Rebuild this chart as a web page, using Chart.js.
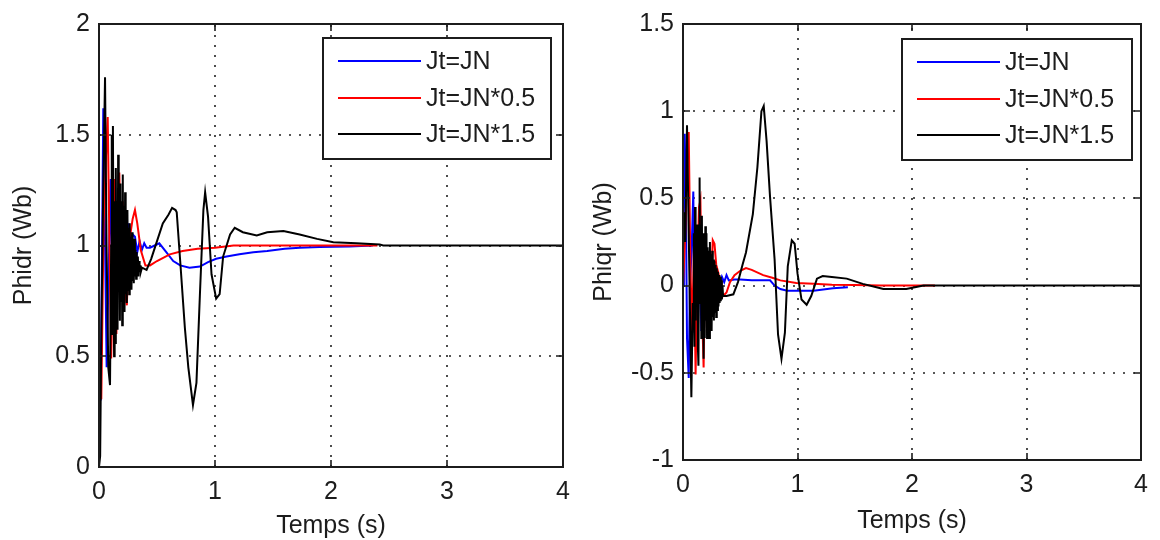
<!DOCTYPE html>
<html><head><meta charset="utf-8">
<script src="https://cdn.jsdelivr.net/npm/chart.js@4.4.0/dist/chart.umd.min.js"></script>
<style>
html,body{margin:0;padding:0;background:#fff;}
#wrap{position:relative;width:1160px;height:540px;overflow:hidden;background:#fff;}
canvas{position:absolute;top:0;}
#c1{left:0}
#c2{left:580px}
</style></head><body>
<div id="wrap"><canvas id="c1" width="580" height="540"></canvas><canvas id="c2" width="580" height="540"></canvas></div>
<script>
// ---------------- data ----------------
const seriesNames = ['Jt=JN', 'Jt=JN*0.5', 'Jt=JN*1.5'];
const xTitle = 'Temps (s)';
const leftYTitle = 'Phidr (Wb)';
const rightYTitle = 'Phiqr (Wb)';

const timeTicks = [0, 1, 2, 3, 4];
const timeTickLabels = ['0', '1', '2', '3', '4'];
const phidrTicks = [0, 0.5, 1, 1.5, 2];
const phidrTickLabels = ['0', '0.5', '1', '1.5', '2'];
const phiqrTicks = [-1, -0.5, 0, 0.5, 1, 1.5];
const phiqrTickLabels = ['-1', '-0.5', '0', '0.5', '1', '1.5'];

// Phidr, [time, value]
const phidrJN = [[0,0.58],[0.015,0.3],[0.037,1.62],[0.05,1.1],[0.066,0.45],[0.08,0.8],[0.1,1.3],[0.12,0.64],[0.135,1.2],[0.15,0.9],[0.165,1.17],[0.18,0.78],[0.2,1.12],[0.215,0.85],[0.23,1.08],[0.245,0.9],[0.255,1.1],[0.27,0.95],[0.29,1.05],[0.31,1.04],[0.33,0.97],[0.35,1.02],[0.37,0.98],[0.39,1.01],[0.41,0.99],[0.44,0.99],[0.48,1.0],[0.52,1.01],[0.58,0.97],[0.64,0.93],[0.7,0.91],[0.78,0.9],[0.87,0.905],[0.94,0.925],[1.01,0.94],[1.1,0.95],[1.21,0.96],[1.33,0.97],[1.45,0.975],[1.6,0.985],[1.73,0.99],[1.9,0.993],[2.16,0.995],[2.36,1.0]];
const phidrJN05 = [[0,0.31],[0.02,0.31],[0.04,1.1],[0.06,1.4],[0.075,1.58],[0.09,1.0],[0.105,0.49],[0.12,0.9],[0.135,1.3],[0.15,0.6],[0.175,1.33],[0.19,0.9],[0.205,1.2],[0.22,0.8],[0.24,0.73],[0.255,0.95],[0.27,1.05],[0.29,1.12],[0.31,1.16],[0.33,1.1],[0.36,0.98],[0.4,0.91],[0.44,0.91],[0.5,0.93],[0.61,0.96],[0.72,0.975],[0.85,0.985],[1.0,0.99],[1.16,1.0],[1.6,1.0],[2.0,1.0],[2.4,1.0]];
const phidrJN15 = [[0,0.0],[0.01,0.05],[0.02,0.6],[0.035,1.2],[0.052,1.76],[0.065,1.0],[0.08,0.45],[0.095,0.37],[0.105,1.0],[0.11,1.5],[0.115,0.6],[0.12,1.54],[0.125,0.9],[0.13,0.5],[0.135,1.2],[0.14,0.56],[0.145,1.35],[0.15,0.7],[0.155,1.2],[0.16,0.62],[0.165,1.41],[0.17,0.8],[0.175,1.1],[0.18,0.66],[0.185,1.28],[0.19,0.75],[0.195,1.2],[0.2,0.64],[0.205,1.32],[0.21,0.72],[0.215,1.18],[0.22,0.7],[0.225,1.24],[0.23,0.78],[0.235,1.12],[0.24,0.74],[0.245,1.16],[0.25,0.8],[0.255,1.08],[0.26,0.78],[0.265,1.1],[0.27,0.82],[0.275,1.04],[0.28,0.8],[0.285,1.06],[0.29,0.84],[0.295,1.0],[0.3,0.83],[0.305,1.03],[0.31,0.86],[0.315,0.98],[0.32,0.85],[0.325,0.97],[0.33,0.87],[0.335,0.95],[0.34,0.86],[0.345,0.93],[0.35,0.88],[0.355,0.91],[0.36,0.88],[0.37,0.9],[0.41,0.89],[0.45,0.94],[0.5,1.02],[0.55,1.1],[0.6,1.14],[0.63,1.17],[0.66,1.16],[0.67,1.15],[0.7,0.93],[0.74,0.63],[0.77,0.45],[0.81,0.28],[0.84,0.38],[0.87,0.78],[0.9,1.16],[0.915,1.24],[0.94,1.13],[0.97,0.87],[1.01,0.76],[1.04,0.78],[1.07,0.95],[1.13,1.05],[1.17,1.08],[1.24,1.06],[1.36,1.045],[1.45,1.06],[1.59,1.065],[1.73,1.05],[1.88,1.03],[2.02,1.015],[2.22,1.01],[2.42,1.005],[2.45,1.0],[4,1.0]];

// Phiqr, [time, value]
const phiqrJN = [[0,0.0],[0.008,0.45],[0.015,0.87],[0.025,0.5],[0.035,-0.3],[0.05,-0.53],[0.06,0.0],[0.075,0.2],[0.09,0.54],[0.1,-0.27],[0.115,0.1],[0.13,-0.26],[0.146,0.26],[0.16,-0.26],[0.175,0.2],[0.19,-0.2],[0.205,0.15],[0.22,-0.1],[0.235,0.12],[0.25,-0.03],[0.26,0.07],[0.28,0.02],[0.3,0.06],[0.32,0.0],[0.34,0.05],[0.36,0.02],[0.38,0.06],[0.4,0.03],[0.45,0.035],[0.5,0.035],[0.6,0.03],[0.76,0.03],[0.8,0.0],[0.85,-0.02],[0.91,-0.03],[1.14,-0.03],[1.31,-0.015],[1.44,-0.01]];
const phiqrJN05 = [[0,0.0],[0.02,0.3],[0.035,0.72],[0.05,0.88],[0.065,0.1],[0.08,-0.27],[0.095,0.2],[0.11,-0.51],[0.125,0.1],[0.14,0.45],[0.152,0.49],[0.165,-0.1],[0.18,-0.47],[0.195,0.3],[0.21,-0.2],[0.225,0.1],[0.24,-0.1],[0.26,0.26],[0.275,0.24],[0.29,0.12],[0.31,0.07],[0.33,-0.02],[0.35,-0.06],[0.38,-0.04],[0.41,0.02],[0.45,0.06],[0.5,0.085],[0.55,0.1],[0.6,0.09],[0.7,0.06],[0.78,0.045],[0.85,0.03],[0.99,0.015],[1.14,0.01],[1.3,0.005],[1.5,0.003],[1.73,0.0],[2.2,0.0]];
const phiqrJN15 = [[0,0.2],[0.01,0.42],[0.02,0.25],[0.035,0.92],[0.05,0.3],[0.073,-0.64],[0.085,-0.1],[0.09,-0.2],[0.095,0.3],[0.1,-0.35],[0.105,0.45],[0.11,-0.2],[0.115,0.3],[0.12,-0.1],[0.125,0.35],[0.13,-0.35],[0.135,-0.46],[0.14,0.2],[0.145,0.62],[0.15,-0.1],[0.155,0.35],[0.16,-0.3],[0.165,0.4],[0.17,-0.25],[0.175,0.3],[0.18,-0.42],[0.185,0.2],[0.19,-0.3],[0.195,0.34],[0.2,-0.2],[0.205,0.3],[0.21,-0.3],[0.215,0.22],[0.22,-0.25],[0.225,0.2],[0.23,-0.3],[0.235,0.25],[0.24,-0.2],[0.245,0.18],[0.25,-0.26],[0.255,0.2],[0.26,-0.18],[0.265,0.15],[0.27,-0.2],[0.275,0.14],[0.28,-0.15],[0.285,0.12],[0.29,-0.18],[0.295,0.1],[0.3,-0.14],[0.305,0.08],[0.31,-0.12],[0.315,0.06],[0.32,-0.1],[0.325,0.05],[0.33,-0.09],[0.335,0.03],[0.34,-0.08],[0.345,0.0],[0.35,-0.06],[0.38,-0.06],[0.44,-0.05],[0.48,0.02],[0.52,0.12],[0.55,0.19],[0.61,0.41],[0.65,0.68],[0.685,1.0],[0.705,1.03],[0.73,0.83],[0.76,0.51],[0.8,0.15],[0.83,-0.28],[0.86,-0.42],[0.89,-0.27],[0.915,0.11],[0.95,0.26],[0.975,0.24],[1.0,0.07],[1.035,-0.08],[1.08,-0.11],[1.12,-0.06],[1.17,0.04],[1.22,0.055],[1.3,0.05],[1.43,0.04],[1.57,0.01],[1.69,-0.01],[1.75,-0.02],[1.95,-0.02],[2.1,0.0],[4,0.0]];

// ---------------- styling ----------------
const FONT = '"Liberation Sans", Arial, Helvetica, sans-serif';
const TEXT = '#1c1c1c';
const seriesColors = ['#0000ff', '#ff0000', '#000000'];

const matlabAxes = {
  id: 'matlabAxes',
  beforeDatasetsDraw(chart) {
    const {ctx, chartArea: a, scales: {x, y}} = chart;
    ctx.save();
    ctx.strokeStyle = '#222';
    ctx.lineWidth = 1.6;
    ctx.setLineDash([2, 8]);
    x.ticks.forEach((t, i) => {
      if (i === 0 || i === x.ticks.length - 1) return;
      const px = Math.round(x.getPixelForValue(t.value));
      ctx.beginPath(); ctx.moveTo(px, a.bottom); ctx.lineTo(px, a.top); ctx.stroke();
    });
    y.ticks.forEach((t, i) => {
      if (i === 0 || i === y.ticks.length - 1) return;
      const py = Math.round(y.getPixelForValue(t.value));
      ctx.beginPath(); ctx.moveTo(a.left, py); ctx.lineTo(a.right, py); ctx.stroke();
    });
    ctx.restore();
  },
  afterDatasetsDraw(chart, args, opts) {
    const {ctx, chartArea: a, scales: {x, y}} = chart;
    ctx.save();
    ctx.setLineDash([]);
    ctx.strokeStyle = '#1c1c1c';
    ctx.lineWidth = 1.6;
    const L = 7;
    x.ticks.forEach(t => {
      const px = Math.round(x.getPixelForValue(t.value));
      ctx.beginPath(); ctx.moveTo(px, a.bottom); ctx.lineTo(px, a.bottom - L);
      ctx.moveTo(px, a.top); ctx.lineTo(px, a.top + L); ctx.stroke();
    });
    y.ticks.forEach(t => {
      const py = Math.round(y.getPixelForValue(t.value));
      ctx.beginPath(); ctx.moveTo(a.left, py); ctx.lineTo(a.left + L, py);
      ctx.moveTo(a.right, py); ctx.lineTo(a.right - L, py); ctx.stroke();
    });
    ctx.lineWidth = 2;
    ctx.strokeRect(a.left, a.top, a.right - a.left, a.bottom - a.top);

    // legend box
    const bw = opts.boxWidth, bh = opts.boxHeight;
    const bx = a.right - opts.right - bw, by = a.top + opts.top;
    ctx.fillStyle = '#fff';
    ctx.fillRect(bx, by, bw, bh);
    ctx.lineWidth = 2;
    ctx.strokeStyle = '#1c1c1c';
    ctx.strokeRect(bx, by, bw, bh);
    ctx.font = '25px ' + FONT;
    ctx.textAlign = 'left';
    ctx.textBaseline = 'middle';
    const rows = [23, 60, 96];
    chart.data.datasets.forEach((ds, i) => {
      const ry = by + rows[i];
      ctx.strokeStyle = ds.borderColor;
      ctx.lineWidth = 2;
      ctx.beginPath(); ctx.moveTo(bx + 15, ry); ctx.lineTo(bx + 98, ry); ctx.stroke();
      ctx.fillStyle = TEXT;
      ctx.fillText(ds.label, bx + 103, ry + 1);
    });
    ctx.restore();
  }
};

function toPoints(arr) { return arr.map(p => ({x: p[0], y: p[1]})); }

function makeChart(canvasId, seriesList, yTicks, yTickLabels, yTitle, geom) {
  const datasets = seriesList.map((s, i) => ({
    label: seriesNames[i],
    data: toPoints(s),
    borderColor: seriesColors[i],
    borderWidth: 2,
    pointRadius: 0,
    tension: 0,
    fill: false,
    order: 3 - i
  }));
  return new Chart(document.getElementById(canvasId), {
    type: 'line',
    data: {datasets},
    plugins: [matlabAxes],
    options: {
      responsive: false,
      animation: false,
      devicePixelRatio: 1,
      layout: {padding: {top: geom.top, right: geom.right, left: 0, bottom: 0}},
      plugins: {
        legend: {display: false},
        tooltip: {enabled: false},
        matlabAxes: {boxWidth: geom.lw, boxHeight: geom.lh, right: geom.lr, top: geom.lt}
      },
      scales: {
        x: {
          type: 'linear',
          min: timeTicks[0], max: timeTicks[timeTicks.length - 1],
          afterBuildTicks: s => { s.ticks = timeTicks.map(v => ({value: v})); },
          afterFit: s => { s.height = geom.xh; },
          grid: {display: false, drawTicks: false},
          border: {display: false},
          ticks: {
            autoSkip: false, maxRotation: 0, padding: 10,
            color: TEXT, font: {family: FONT, size: 25},
            callback: (v, i) => timeTickLabels[i]
          },
          title: {display: true, text: xTitle, color: TEXT, font: {family: FONT, size: 25},
                  padding: {top: 0, bottom: geom.xtb}}
        },
        y: {
          type: 'linear',
          min: yTicks[0], max: yTicks[yTicks.length - 1],
          afterBuildTicks: s => { s.ticks = yTicks.map(v => ({value: v})); },
          afterFit: s => { s.width = geom.yw; },
          grid: {display: false, drawTicks: false},
          border: {display: false},
          ticks: {
            autoSkip: false, padding: 9,
            color: TEXT, font: {family: FONT, size: 25},
            callback: (v, i) => yTickLabels[i]
          },
          title: {display: true, text: yTitle, color: TEXT, font: {family: FONT, size: 25},
                  padding: {top: geom.ytp, bottom: 0}}
        }
      }
    }
  });
}

Chart.defaults.font.family = FONT;

makeChart('c1', [phidrJN, phidrJN05, phidrJN15], phidrTicks, phidrTickLabels, leftYTitle,
  {top: 24, right: 17, yw: 99, xh: 73, xtb: -1, ytp: 9, lw: 228, lh: 121, lr: 12, lt: 14});
makeChart('c2', [phiqrJN, phiqrJN05, phiqrJN15], phiqrTicks, phiqrTickLabels, rightYTitle,
  {top: 18, right: 19, yw: 103, xh: 80, xtb: 4, ytp: 9, lw: 230, lh: 121, lr: 9, lt: 15});
</script>
</body></html>
